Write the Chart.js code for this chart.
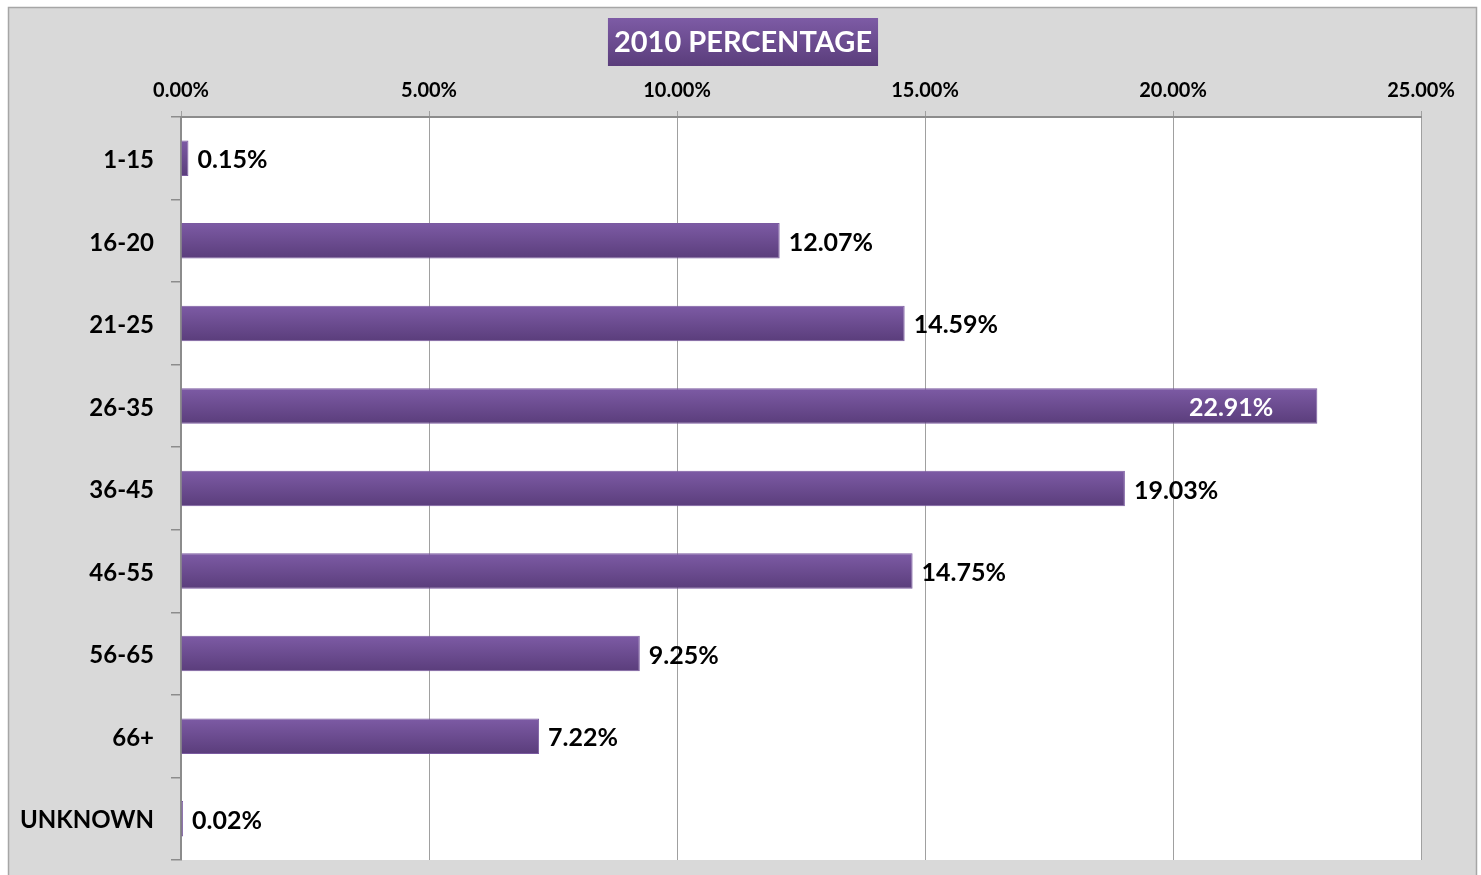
<!DOCTYPE html>
<html>
<head>
<meta charset="utf-8">
<script src="https://cdn.jsdelivr.net/npm/chart.js@4.4.1/dist/chart.umd.min.js"></script>
<style>
  html, body { margin: 0; padding: 0; background: #ffffff; }
  #wrap { width: 1481px; height: 875px; position: relative; }
</style>
</head>
<body>
<div id="wrap"><canvas id="c" width="1481" height="875"></canvas></div>
<script>
const categories = ['1-15', '16-20', '21-25', '26-35', '36-45', '46-55', '56-65', '66+', 'UNKNOWN'];
const percentages = [0.15, 12.07, 14.59, 22.91, 19.03, 14.75, 9.25, 7.22, 0.02];
const titleText = '2010 PERCENTAGE';
const axisMin = 0, axisMax = 25, axisStep = 5;

const FONT = "Lato, 'Open Sans', 'DejaVu Sans', sans-serif";

function barGradient(ctx, top, bottom) {
  const g = ctx.createLinearGradient(0, top, 0, bottom);
  g.addColorStop(0, '#7d5ba5');
  g.addColorStop(1, '#5a3d7b');
  return g;
}

const framePlugin = {
  id: 'frame',
  beforeDraw(chart) {
    const ctx = chart.ctx, a = chart.chartArea;
    ctx.save();
    ctx.fillStyle = '#ffffff';
    ctx.fillRect(0, 0, chart.width, chart.height);
    ctx.fillStyle = '#d9d9d9';
    ctx.fillRect(8, 7, 1469, chart.height);
    ctx.strokeStyle = '#a6a6a6';
    ctx.lineWidth = 1.5;
    ctx.beginPath();
    ctx.moveTo(8.5, chart.height + 2); ctx.lineTo(8.5, 7.5); ctx.lineTo(1476.5, 7.5); ctx.lineTo(1476.5, chart.height + 2);
    ctx.stroke();
    ctx.fillStyle = '#ffffff';
    ctx.fillRect(a.left, a.top, a.right - a.left, a.bottom - a.top);
    // title with box
    ctx.font = 'bold 29px ' + FONT;
    const w = ctx.measureText(titleText).width;
    const cx = 743, cy = 42;
    ctx.fillStyle = barGradient(ctx, 18, 66);
    ctx.fillRect(cx - w / 2 - 6, 18, w + 12, 48);
    ctx.fillStyle = '#ffffff';
    ctx.textAlign = 'center';
    ctx.textBaseline = 'middle';
    ctx.fillText(titleText, cx, cy + 1);
    ctx.restore();
  }
};

const labelPlugin = {
  id: 'barLabels',
  afterDatasetsDraw(chart) {
    const ctx = chart.ctx, a = chart.chartArea;
    const meta = chart.getDatasetMeta(0);
    ctx.save();
    ctx.font = 'bold 25px ' + FONT;
    ctx.textBaseline = 'middle';
    meta.data.forEach((bar, i) => {
      const txt = percentages[i].toFixed(2) + '%';
      const w = ctx.measureText(txt).width;
      if (bar.x + 8 + w > a.right - 20) {
        ctx.fillStyle = '#ffffff';
        ctx.textAlign = 'right';
        ctx.fillText(txt, bar.x - 44, bar.y + 2);
      } else {
        ctx.fillStyle = '#000000';
        ctx.textAlign = 'left';
        ctx.fillText(txt, bar.x + 9, bar.y + 2);
      }
    });
    ctx.restore();
  }
};

const ctx = document.getElementById('c').getContext('2d');
new Chart(ctx, {
  type: 'bar',
  data: {
    labels: categories,
    datasets: [{
      data: percentages,
      backgroundColor: (c) => {
        const chart = c.chart;
        const ys = chart.scales && chart.scales.y;
        if (!ys || !chart.chartArea) return '#6b4b93';
        const yc = ys.getPixelForValue(c.dataIndex);
        return barGradient(chart.ctx, yc - 18, yc + 18);
      },
      borderColor: '#7a5aa0',
      borderWidth: 1,
      minBarLength: 2,
      categoryPercentage: 1.0,
      barPercentage: 0.43
    }]
  },
  options: {
    indexAxis: 'y',
    responsive: false,
    animation: false,
    devicePixelRatio: 1,
    layout: { padding: { left: 0, right: 60, top: 0, bottom: 15 } },
    plugins: {
      legend: { display: false },
      tooltip: { enabled: false },
      title: { display: false }
    },
    scales: {
      x: {
        position: 'top',
        min: axisMin,
        max: axisMax,
        afterFit(scale) { scale.height = 117; },
        ticks: {
          stepSize: axisStep,
          color: '#000000',
          font: { family: FONT, size: 20, weight: 'bold' },
          padding: 8,
          maxRotation: 0,
          callback: (v) => Number(v).toFixed(2) + '%'
        },
        grid: { color: '#a0a0a0', lineWidth: 1, tickLength: 6, drawTicks: true },
        border: { color: '#8c8c8c', width: 2 }
      },
      y: {
        afterFit(scale) { scale.width = 181; scale.paddingTop = 0; scale.paddingBottom = 0; },
        ticks: {
          color: '#000000',
          font: { family: FONT, size: 24, weight: 'bold' },
          padding: 17,
          labelOffset: 2
        },
        grid: { drawOnChartArea: false, offset: true, color: '#8c8c8c', tickLength: 10, lineWidth: 1.5 },
        border: { color: '#8c8c8c', width: 2 }
      }
    }
  },
  plugins: [framePlugin, labelPlugin]
});
</script>
</body>
</html>
